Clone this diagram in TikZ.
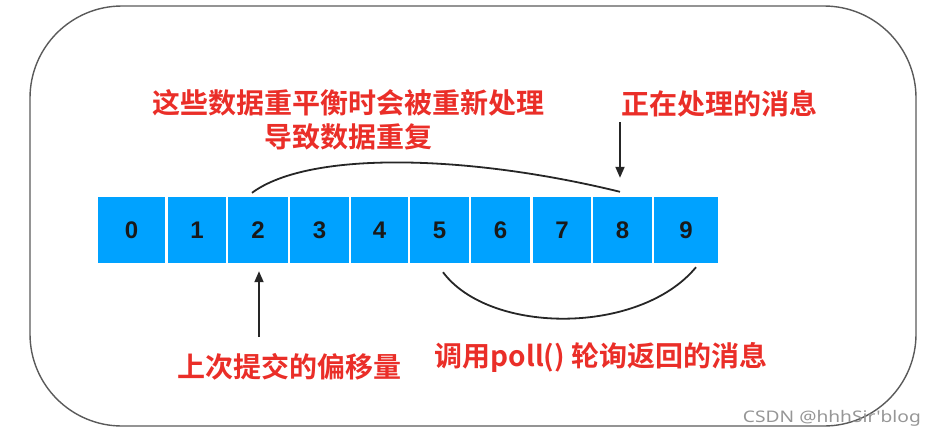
\documentclass[tikz,border=0pt]{standalone}
\usepackage{fontspec}
\setmainfont{Liberation Sans}
\newfontfamily\cjkb{Noto Sans CJK SC Bold}
\newfontfamily\wmfont{Noto Sans}
\usetikzlibrary{arrows.meta}
\definecolor{cellblue}{RGB}{0,162,255}
\definecolor{labred}{RGB}{234,46,40}
\definecolor{framegray}{RGB}{90,90,90}
\definecolor{wmgray}{RGB}{150,150,150}
\begin{document}
\begin{tikzpicture}[x=1pt,y=-1pt,
  cell/.style={fill=cellblue,draw=none,inner sep=0pt,minimum height=66pt,
     font=\fontsize{24}{24}\selectfont\bfseries,text=black!90},
  lab/.style={font=\cjkb\fontsize{28}{34}\selectfont,text=labred,inner sep=0pt,align=center},
  conn/.style={line width=1.8pt,black!85},
  arr/.style={conn,-{Triangle[length=11pt,width=9pt]}}]
\useasboundingbox (0,0) rectangle (936,440);
\draw[framegray,line width=1.4pt,rounded corners=92pt] (30,6) rectangle (916,426);
% cells
\node[cell,minimum width=67pt] (b0) at (131.5,230) {0};
\node[cell,minimum width=58pt] (b1) at (197,230) {1};
\node[cell,minimum width=60pt] (b2) at (258,230) {2};
\node[cell,minimum width=59pt] (b3) at (319.5,230) {3};
\node[cell,minimum width=57pt] (b4) at (379.5,230) {4};
\node[cell,minimum width=59pt] (b5) at (439.5,230) {5};
\node[cell,minimum width=59pt] (b6) at (500.5,230) {6};
\node[cell,minimum width=58pt] (b7) at (562,230) {7};
\node[cell,minimum width=59pt] (b8) at (622.5,230) {8};
\node[cell,minimum width=64pt] (b9) at (686,230) {9};
% labels
\node[lab] (t1) at (348,120) {这些数据重平衡时会被重新处理\\导致数据重复};
\node[lab] (t2) at (719,104) {正在处理的消息};
\node[lab] (t3) at (289,367) {上次提交的偏移量};
\node[lab] (t4) at (601,357) {调用poll() 轮询返回的消息};
\node[font=\wmfont\fontsize{16}{16}\selectfont,text=wmgray,inner sep=0pt,anchor=east] (wm) at (921,418) {\scalebox{1.2}[1]{CSDN @hhhSir'blog}};
% connectors
\coordinate (a8top) at (620,122);
\draw[arr] (a8top) -- ([xshift=-2.5pt,yshift=19pt]b8.north);
\coordinate (a2bot) at (259,337);
\draw[arr] (a2bot) -- ([xshift=1pt,yshift=-8pt]b2.south);
\draw[conn] ([xshift=-6pt,yshift=4pt]b2.north) .. controls (310,150) and (470,155) .. ([xshift=-2.5pt,yshift=5pt]b8.north);
\draw[conn] ([xshift=3.5pt,yshift=-9pt]b5.south) .. controls (490,335) and (640,335) .. ([xshift=10pt,yshift=-4pt]b9.south);
\end{tikzpicture}
\end{document}
